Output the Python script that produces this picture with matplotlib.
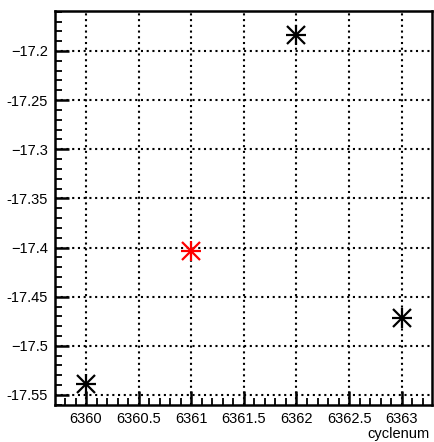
import matplotlib
matplotlib.use('Agg')
import matplotlib.pyplot as plt
from matplotlib.ticker import MultipleLocator, FixedLocator

plt.rcParams['font.family'] = ['Liberation Sans', 'DejaVu Sans']

# Data
cyclenum = [6360, 6361, 6362, 6363]
values = [-17.539, -17.404, -17.1837, -17.4713]
colors = ['black', 'red', 'black', 'black']

ytick_vals = [-17.2, -17.25, -17.3, -17.35, -17.4, -17.45, -17.5, -17.55]
ytick_labels = ['\u221217.2', '-17.25', '\u221217.3', '-17.35',
                '\u221217.4', '-17.45', '\u221217.5', '-17.55']
xtick_vals = [6360, 6360.5, 6361, 6361.5, 6362, 6362.5, 6363]
xtick_labels = ['6360', '6360.5', '6361', '6361.5', '6362', '6362.5', '6363']

fig = plt.figure(figsize=(4.34, 4.42), dpi=100)
ax = fig.add_axes([55 / 434, 1 - 405 / 442, 377 / 434, 394 / 442])

# asterisk markers like ROOT's marker style 3
for x, y, c in zip(cyclenum, values, colors):
    ax.plot(x, y, marker='+', color=c, markersize=14, markeredgewidth=1.6, linestyle='none', zorder=5)
    ax.plot(x, y, marker='x', color=c, markersize=13, markeredgewidth=1.6, linestyle='none', zorder=5)

ax.set_xlim(6359.705, 6363.288)
ax.set_ylim(-17.5602, -17.1593)

ax.xaxis.set_major_locator(FixedLocator(xtick_vals))
ax.set_xticklabels(xtick_labels)
ax.xaxis.set_minor_locator(MultipleLocator(0.1))
ax.yaxis.set_major_locator(FixedLocator(ytick_vals))
ax.set_yticklabels(ytick_labels)
ax.yaxis.set_minor_locator(MultipleLocator(0.01))

ax.tick_params(which='both', direction='in', top=False, right=False,
               labelsize=10.5, colors='black')
ax.tick_params(which='major', length=10, width=1.8, pad=5)
ax.tick_params(which='minor', length=5, width=1.3)

ax.grid(True, which='major', color='black', linestyle=(0, (1, 1.75)), linewidth=1.5)

for s in ax.spines.values():
    s.set_linewidth(1.8)

# axis title, right aligned under the tick labels
fig.text(430 / 434, 1 - 434 / 442, 'cyclenum', fontsize=10.5, ha='right', va='center')

fig.savefig('out.png', dpi=100)
